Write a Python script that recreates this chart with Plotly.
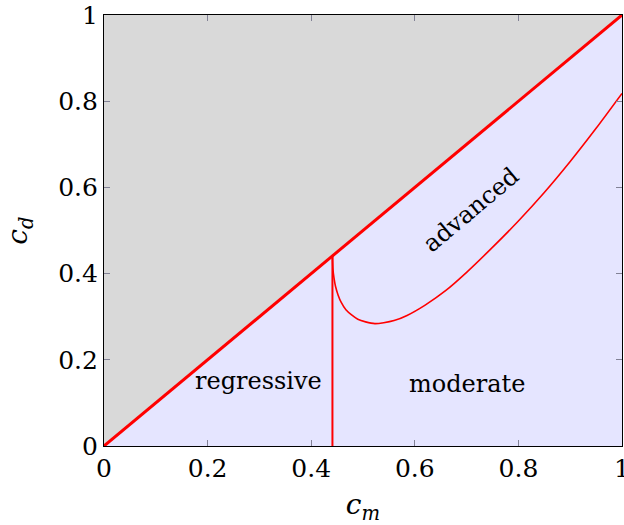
import plotly.graph_objects as go

# Region polygons (c_m, c_d)
upper_x = [0, 1, 0, 0]
upper_y = [0, 1, 1, 0]
lower_x = [0, 1, 1, 0]
lower_y = [0, 0, 1, 0]

# Diagonal boundary
diag_x = [0, 1]
diag_y = [0, 1]

# Vertical boundary at c_m threshold
vert_x = [0.441, 0.441]
vert_y = [0.0, 0.441]

# Curved boundary (advanced / moderate)
curve_x = [0.441, 0.442, 0.444, 0.447, 0.452, 0.458, 0.467, 0.478, 0.490, 0.505, 0.523,
           0.540, 0.560, 0.585, 0.620, 0.660, 0.700, 0.745, 0.800, 0.850, 0.900, 0.950, 1.000]
curve_y = [0.441, 0.410, 0.390, 0.370, 0.350, 0.333, 0.316, 0.304, 0.294, 0.288, 0.284,
           0.286, 0.291, 0.303, 0.327, 0.361, 0.403, 0.455, 0.522, 0.588, 0.660, 0.737, 0.818]

tick_vals = [0, 0.2, 0.4, 0.6, 0.8, 1]
tick_text = ["0", "0.2", "0.4", "0.6", "0.8", "1"]

region_labels = ["regressive", "moderate", "advanced"]
label_x = [0.298, 0.70, 0.708]
label_y = [0.151, 0.145, 0.548]
label_angle = [0, 0, -40]

FONT = "DejaVu Serif"

fig = go.Figure()
fig.add_trace(go.Scatter(x=upper_x, y=upper_y, fill="toself", mode="lines",
                         line=dict(width=0), fillcolor="rgb(217,217,217)",
                         hoverinfo="skip", showlegend=False))
fig.add_trace(go.Scatter(x=lower_x, y=lower_y, fill="toself", mode="lines",
                         line=dict(width=0), fillcolor="rgb(229,229,255)",
                         hoverinfo="skip", showlegend=False))
fig.add_trace(go.Scatter(x=curve_x, y=curve_y, mode="lines",
                         line=dict(color="rgb(255,0,0)", width=1.6, shape="spline", smoothing=0.6),
                         showlegend=False))
fig.add_trace(go.Scatter(x=vert_x, y=vert_y, mode="lines",
                         line=dict(color="rgb(255,0,0)", width=2),
                         showlegend=False))
fig.add_trace(go.Scatter(x=diag_x, y=diag_y, mode="lines",
                         line=dict(color="rgb(255,0,0)", width=3),
                         showlegend=False))

for t, x, y, a in zip(region_labels, label_x, label_y, label_angle):
    fig.add_annotation(x=x, y=y, text=t, showarrow=False, textangle=a,
                       font=dict(family=FONT, size=24, color="black"))

axis_common = dict(
    range=[0, 1], tickvals=tick_vals, ticktext=tick_text,
    ticks="inside", ticklen=6, tickcolor="rgb(130,130,150)", tickwidth=1,
    showline=True, linecolor="black", linewidth=1.2, mirror="ticks",
    showgrid=False, zeroline=False, ticklabeloverflow="allow",
    tickfont=dict(family=FONT, size=25, color="black"),
)

fig.update_layout(
    width=624, height=525,
    margin=dict(l=104, r=2, t=15, b=79, autoexpand=False),
    plot_bgcolor="white", paper_bgcolor="white",
    xaxis=dict(**axis_common,
               title=dict(text="<i>c</i><sub><i>m</i></sub>",
                          font=dict(family=FONT, size=28, color="black"),
                          standoff=12)),
    yaxis=dict(**axis_common,
               title=dict(text="<i>c</i><sub><i>d</i></sub>",
                          font=dict(family=FONT, size=28, color="black"),
                          standoff=22)),
)

fig.write_html("out.html")
